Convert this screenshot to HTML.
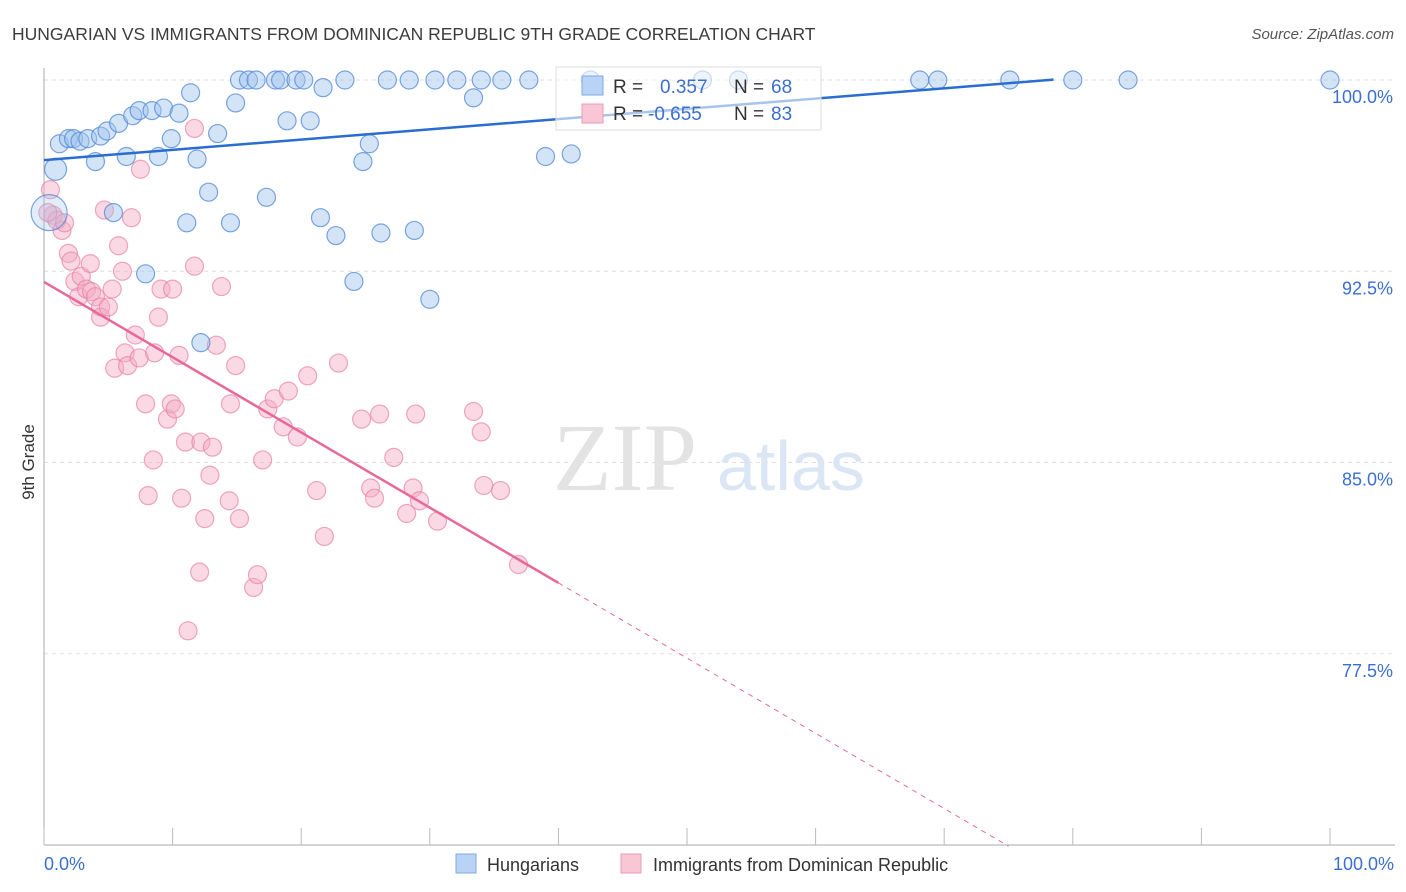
<!DOCTYPE html>
<html><head><meta charset="utf-8"><style>
body{margin:0;background:#fff;font-family:"Liberation Sans",sans-serif}
svg{display:block}
</style></head><body>
<svg id="chart" width="1406" height="892" viewBox="0 0 1406 892">
<text x="12" y="40" font-size="17.5" fill="#3c3c3c">HUNGARIAN VS IMMIGRANTS FROM DOMINICAN REPUBLIC 9TH GRADE CORRELATION CHART</text>
<text x="1394" y="39" font-size="15" fill="#555" font-style="italic" text-anchor="end">Source: ZipAtlas.com</text>
<text x="34" y="462" font-size="17" fill="#333" text-anchor="middle" transform="rotate(-90 34 462)">9th Grade</text>
<g id="grid"></g>
<g>
<text x="553" y="490" font-family="Liberation Serif,serif" font-size="96" fill="#e3e3e3">ZIP</text>
<text x="717" y="490" font-size="70" fill="#dbe6f5">atlas</text>
</g>
<g id="pts"></g>
<g id="trend"></g>
<g>
<rect x="556" y="67" width="265" height="63" fill="rgba(255,255,255,0.6)" stroke="#ddd"/>
<rect x="582" y="76" width="21" height="19" fill="#b8d3f5" stroke="#7ea8df"/>
<rect x="582" y="104" width="21" height="19" fill="#f8c6d5" stroke="#ea9ab5"/>
<text x="613" y="93" font-size="19" fill="#333">R =</text>
<text x="660" y="93" font-size="19" fill="#3b6fcf">0.357</text>
<text x="734" y="93" font-size="19" fill="#333">N =</text>
<text x="771" y="93" font-size="19" fill="#3b6fcf">68</text>
<text x="613" y="120" font-size="19" fill="#333">R =</text>
<text x="648" y="120" font-size="19" fill="#3b6fcf">-0.655</text>
<text x="734" y="120" font-size="19" fill="#333">N =</text>
<text x="771" y="120" font-size="19" fill="#3b6fcf">83</text>
</g>
<g>
<rect x="456" y="854" width="20" height="19" fill="#b8d3f5" stroke="#7ea8df"/>
<text x="487" y="871" font-size="18" fill="#333">Hungarians</text>
<rect x="621" y="854" width="20" height="19" fill="#f8c6d5" stroke="#ea9ab5"/>
<text x="653" y="871" font-size="18" fill="#333">Immigrants from Dominican Republic</text>
</g>
<text x="44" y="870" font-size="18" fill="#3b6fcf">0.0%</text>
<text x="1394" y="870" font-size="18" fill="#3b6fcf" text-anchor="end">100.0%</text>
</svg>
<script>
const yTicks=[100,92.5,85,77.5];
const yTickLabels=["100.0%","92.5%","85.0%","77.5%"];
const xTicks=[0,10,20,30,40,50,60,70,80,90,100];
const blueX=[0.9,0.4,1.2,1.9,2.3,2.8,3.4,4.0,4.4,4.9,5.8,6.4,6.9,7.4,8.4,8.9,9.3,9.9,10.5,11.4,11.9,12.8,13.5,11.1,14.5,14.9,15.2,15.9,16.5,17.3,18.0,18.4,18.9,19.6,20.2,20.7,21.5,21.7,22.7,23.4,24.1,24.8,25.3,26.2,26.7,28.4,28.8,30.0,30.4,32.1,33.4,34.0,35.6,37.7,39.0,41.0,7.9,12.2,5.4,51.2,54.0,68.1,69.5,75.1,80.0,84.3,100,42.5];
const blueY=[96.5,94.8,97.5,97.7,97.7,97.6,97.7,96.8,97.8,98.0,98.3,97.0,98.6,98.8,98.8,97.0,98.9,97.7,98.7,99.5,96.9,95.6,97.9,94.4,94.4,99.1,100,100,100,95.4,100,100,98.4,100,100,98.4,94.6,99.7,93.9,100,92.1,96.8,97.5,94.0,100,100,94.1,91.4,100,100,99.3,100,100,100,97.0,97.1,92.4,89.7,94.8,100,100,100,100,100,100,100,100,100];
const blueR=[11,18];
const pinkX=[0.5,0.7,1.0,1.4,1.6,1.9,2.1,2.4,2.7,2.9,3.3,3.6,3.7,4.0,4.4,4.4,4.7,5.0,5.3,5.5,5.8,6.1,6.3,6.5,6.8,7.1,7.4,7.5,7.9,8.1,8.5,8.6,8.9,9.1,9.6,9.9,10.0,10.2,10.5,10.7,11.0,11.2,11.7,11.7,12.1,12.2,12.5,12.9,13.1,13.4,13.8,14.4,14.5,14.9,15.2,16.3,16.6,17.0,17.4,17.9,18.6,19.0,19.7,20.5,21.2,21.8,22.9,24.7,25.4,25.7,26.1,27.2,28.2,28.7,28.9,29.2,30.6,33.4,34.0,34.2,35.5,36.9,0.3];
const pinkY=[95.7,94.7,94.5,94.1,94.4,93.2,92.9,92.1,91.5,92.3,91.8,92.8,91.7,91.5,91.1,90.7,94.9,91.1,91.8,88.7,93.5,92.5,89.3,88.8,94.6,90.0,89.1,96.5,87.3,83.7,85.1,89.3,90.7,91.8,86.7,87.3,91.8,87.1,89.2,83.6,85.8,78.4,92.7,98.1,80.7,85.8,82.8,84.5,85.6,89.6,91.9,83.5,87.3,88.8,82.8,80.1,80.6,85.1,87.1,87.5,86.4,87.8,86.0,88.4,83.9,82.1,88.9,86.7,84.0,83.6,86.9,85.2,83.0,84.0,86.9,83.5,82.7,87.0,86.2,84.1,83.9,81.0,94.8];
const blueTrend=[96.86,0.0402,78.5];
const pinkTrend=[92.08,-0.295,40,75];
const NS="http://www.w3.org/2000/svg";
const X0=44,X1=1330,YT=80,YB=845,YMIN=70,YMAX=100;
const sx=v=>X0+(v/100)*(X1-X0);
const sy=v=>YB-(v-YMIN)/(YMAX-YMIN)*(YB-YT);
function mk(tag,attrs,parent){const e=document.createElementNS(NS,tag);for(const k in attrs)e.setAttribute(k,attrs[k]);parent.appendChild(e);return e;}
const grid=document.getElementById('grid');
yTicks.forEach((t,i)=>{
 const l=mk('line',{x1:X0,x2:1395,y1:sy(t),y2:sy(t),stroke:'#ddd','stroke-dasharray':'4,4'},grid);
 
 
 const tx=mk('text',{x:1393,y:sy(t)+23,'font-size':18,fill:'#3b6fcf','text-anchor':'end'},grid);
 tx.textContent=yTickLabels[i];
 
 
});
const ax=mk('line',{x1:X0,x2:X0,y1:68,y2:YB,stroke:'#aaa'},grid);


const bx=mk('line',{x1:X0,x2:1395,y1:YB,y2:YB,stroke:'#aaa'},grid);


xTicks.forEach(t=>{
 const l=mk('line',{x1:sx(t),x2:sx(t),y1:828,y2:YB,stroke:'#bbb'},grid);
 
 
});
const pts=document.getElementById('pts');
pinkX.forEach((x,i)=>{
 const c=mk('circle',{cx:sx(x),cy:sy(pinkY[i]),r:9,fill:'rgba(244,170,195,0.45)',stroke:'rgba(232,130,165,0.7)','stroke-width':1.2},pts);
 
 
});
blueX.forEach((x,i)=>{
 const c=mk('circle',{cx:sx(x),cy:sy(blueY[i]),r:(i<blueR.length?blueR[i]:9),fill:(i==1?'rgba(160,195,238,0.3)':'rgba(160,195,238,0.45)'),stroke:'rgba(80,135,215,0.75)','stroke-width':1.2},pts);
 
 
});
const tr=document.getElementById('trend');
const bl=mk('line',{x1:sx(0),y1:sy(blueTrend[0]),x2:sx(blueTrend[2]),y2:sy(blueTrend[0]+blueTrend[1]*blueTrend[2]),stroke:'#2a6dd0','stroke-width':2.5},tr);


const pl=mk('line',{x1:sx(0),y1:sy(pinkTrend[0]),x2:sx(pinkTrend[2]),y2:sy(pinkTrend[0]+pinkTrend[1]*pinkTrend[2]),stroke:'#e8689a','stroke-width':2.5},tr);


const pd=mk('line',{x1:sx(pinkTrend[2]),y1:sy(pinkTrend[0]+pinkTrend[1]*pinkTrend[2]),x2:sx(pinkTrend[3]),y2:sy(pinkTrend[0]+pinkTrend[1]*pinkTrend[3]),stroke:'#e8689a','stroke-width':1,'stroke-dasharray':'5,5'},tr);


</script>
</body></html>
